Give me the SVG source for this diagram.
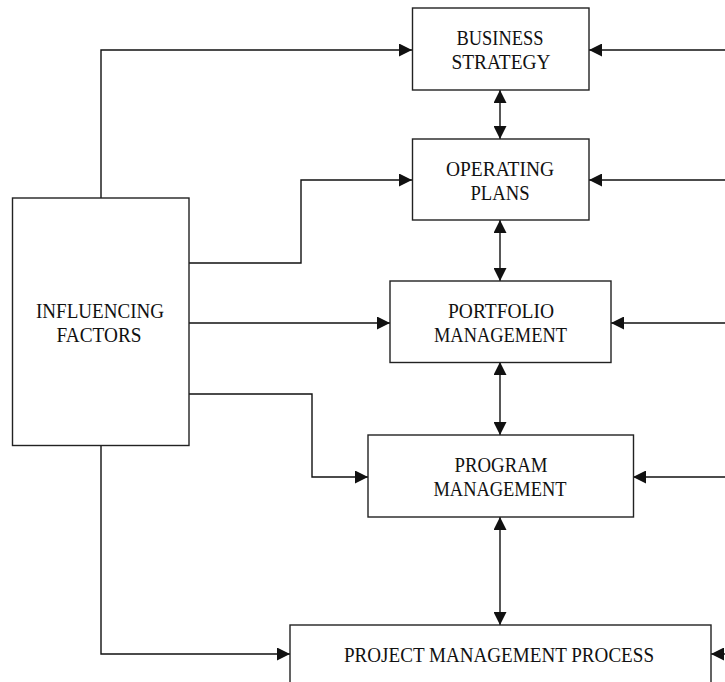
<svg xmlns="http://www.w3.org/2000/svg" width="725" height="682" viewBox="0 0 725 682">
  <style>
    .box { fill: #ffffff; stroke: #222222; stroke-width: 1.4; }
    .lbl { font-family: "Liberation Serif", "Times New Roman", serif; font-size: 22px; fill: #111111; text-anchor: middle; }
    .conn { fill: none; stroke: #111111; stroke-width: 1.4; }
    .one { marker-end: url(#head); }
    .two { marker-start: url(#head); marker-end: url(#head); }
  </style>
  <defs>
    <marker id="head" markerUnits="userSpaceOnUse" markerWidth="14" markerHeight="13" refX="13" refY="6.5" orient="auto-start-reverse">
      <path d="M0,0 L13,6.5 L0,13 Z" fill="#111111"/>
    </marker>
  </defs>
  <rect width="725" height="682" fill="#ffffff"/>

  <!-- connectors -->
  <g id="connectors">
    <!-- influencing factors to each level -->
    <polyline class="conn one" points="101,198 101,50 412,50"/>
    <polyline class="conn one" points="189,263 301,263 301,180 412,180"/>
    <polyline class="conn one" points="189,323 390,323"/>
    <polyline class="conn one" points="189,394 312,394 312,477 368,477"/>
    <polyline class="conn one" points="101,446 101,654 290,654"/>
    <!-- inputs from the right edge -->
    <polyline class="conn one" points="725,50 589,50"/>
    <polyline class="conn one" points="725,180 589,180"/>
    <polyline class="conn one" points="725,323 611,323"/>
    <polyline class="conn one" points="725,477 633,477"/>
    <polyline class="conn one" points="725,654 711,654"/>
    <!-- two-way links down the hierarchy -->
    <polyline class="conn two" points="500,90 500,139"/>
    <polyline class="conn two" points="500,220 500,281"/>
    <polyline class="conn two" points="500,362 500,435"/>
    <polyline class="conn two" points="500,517 500,625"/>
  </g>

  <g id="business-strategy">
    <rect class="box" x="412.5" y="8" width="176.5" height="82"/>
    <text class="lbl" x="500" y="45" textLength="87" lengthAdjust="spacingAndGlyphs">BUSINESS</text>
    <text class="lbl" x="501" y="69" textLength="99" lengthAdjust="spacingAndGlyphs">STRATEGY</text>
  </g>

  <g id="operating-plans">
    <rect class="box" x="412.5" y="139" width="176.5" height="81"/>
    <text class="lbl" x="500" y="176" textLength="108" lengthAdjust="spacingAndGlyphs">OPERATING</text>
    <text class="lbl" x="500" y="199.5" textLength="59" lengthAdjust="spacingAndGlyphs">PLANS</text>
  </g>

  <g id="portfolio-management">
    <rect class="box" x="390" y="281" width="221" height="81.5"/>
    <text class="lbl" x="501" y="318" textLength="106" lengthAdjust="spacingAndGlyphs">PORTFOLIO</text>
    <text class="lbl" x="500.5" y="341.5" textLength="133" lengthAdjust="spacingAndGlyphs">MANAGEMENT</text>
  </g>

  <g id="program-management">
    <rect class="box" x="368" y="435" width="265.5" height="82"/>
    <text class="lbl" x="501" y="472" textLength="93" lengthAdjust="spacingAndGlyphs">PROGRAM</text>
    <text class="lbl" x="500" y="496" textLength="133" lengthAdjust="spacingAndGlyphs">MANAGEMENT</text>
  </g>

  <g id="project-management-process">
    <rect class="box" x="290" y="625" width="421" height="70"/>
    <text class="lbl" x="499" y="662" textLength="310" lengthAdjust="spacingAndGlyphs">PROJECT MANAGEMENT PROCESS</text>
  </g>

  <g id="influencing-factors">
    <rect class="box" x="12.5" y="198" width="176.5" height="247.5"/>
    <text class="lbl" x="100" y="317.5" textLength="128" lengthAdjust="spacingAndGlyphs">INFLUENCING</text>
    <text class="lbl" x="99" y="342" textLength="85" lengthAdjust="spacingAndGlyphs">FACTORS</text>
  </g>
</svg>
